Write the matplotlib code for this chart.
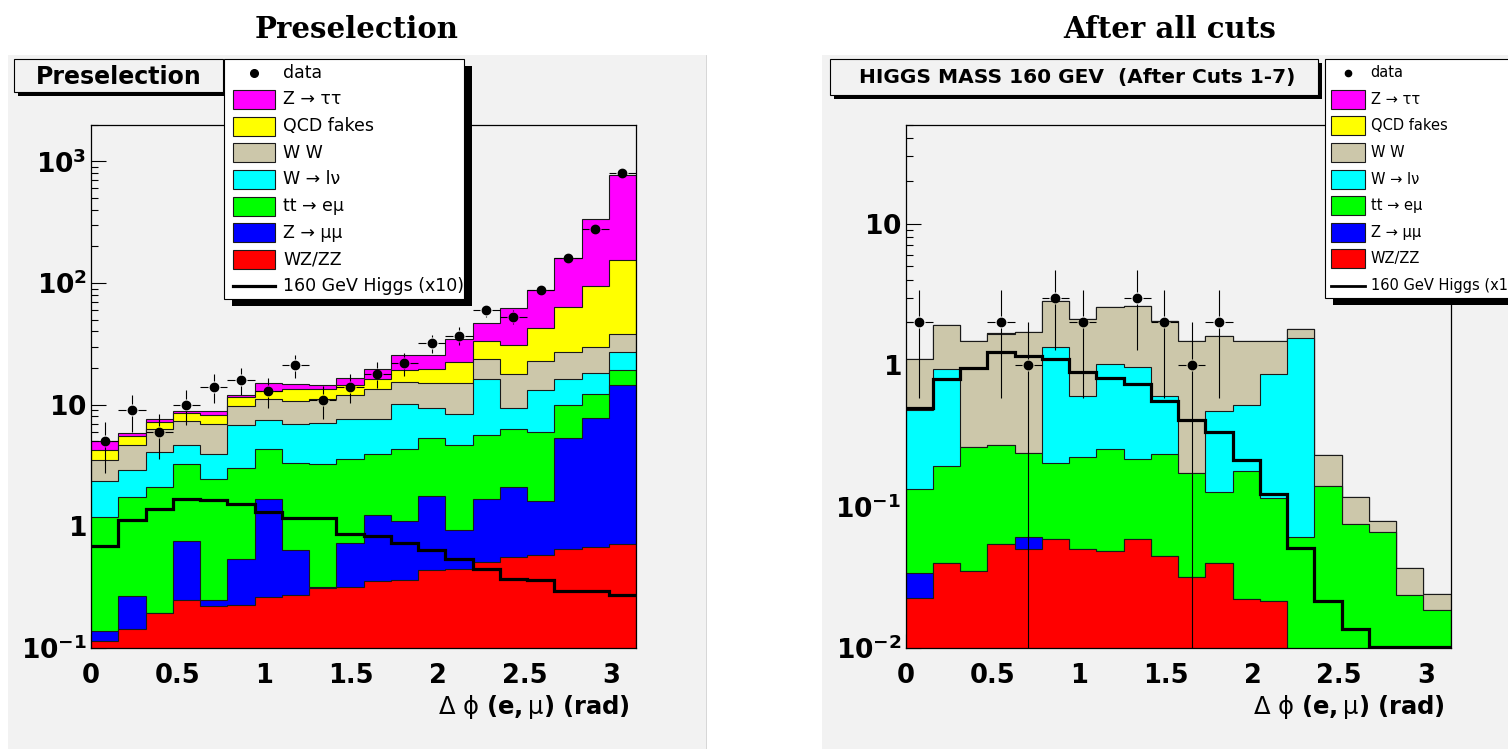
import numpy as np
import matplotlib
matplotlib.use("Agg")
import matplotlib.pyplot as plt
from matplotlib.patches import Rectangle
from matplotlib.ticker import FuncFormatter, LogLocator, NullFormatter

W, H = 1508, 749
BG = "#f2f2f2"
EDGE = "#1a1a1a"

# 20 bins in delta-phi(e, mu) from 0 to pi
EDGES = np.linspace(0.0, np.pi, 21)

# ── Preselection: cumulative stack heights per bin ──────────────────────────
pre_wzzz    = [0.114, 0.144, 0.195, 0.247, 0.220, 0.227, 0.263, 0.274, 0.313, 0.318,
               0.355, 0.365, 0.441, 0.446, 0.509, 0.560, 0.585, 0.656, 0.676, 0.721]
pre_zmumu   = [0.138, 0.267, 0.195, 0.762, 0.250, 0.536, 1.67, 0.643, 0.320, 0.734,
               1.25, 1.10, 1.79, 0.927, 1.69, 2.10, 1.60, 5.35, 7.77, 14.4]
pre_ttbar   = [1.19, 1.75, 2.10, 3.27, 2.47, 3.01, 4.32, 3.34, 3.27, 3.60,
               3.91, 4.35, 5.35, 4.69, 5.59, 6.35, 5.96, 9.87, 12.3, 19.1]
pre_wlnu    = [2.36, 2.92, 4.08, 4.69, 3.96, 6.76, 7.53, 6.98, 7.11, 7.57,
               7.67, 10.2, 9.44, 8.43, 16.3, 9.38, 13.1, 16.3, 18.3, 27.1]
pre_ww      = [3.53, 4.69, 6.35, 7.29, 6.98, 9.74, 11.1, 10.8, 11.1, 12.1,
               13.5, 15.3, 15.2, 15.2, 23.6, 17.7, 22.8, 27.1, 29.7, 38.3]
pre_qcd     = [4.27, 5.52, 7.20, 8.53, 8.17, 11.6, 13.0, 13.5, 13.4, 14.6,
               16.1, 19.1, 19.8, 22.4, 33.3, 31.1, 42.6, 63.9, 93.8, 155]
pre_ztautau = [4.99, 5.89, 7.67, 8.93, 8.84, 12.1, 15.2, 14.8, 14.4, 16.5,
               19.5, 25.6, 25.6, 34.4, 47.2, 62.7, 86.9, 160, 333, 766]
pre_higgs   = [0.689, 1.12, 1.38, 1.69, 1.64, 1.54, 1.30, 1.17, 1.17, 0.865,
               0.828, 0.730, 0.635, 0.542, 0.449, 0.372, 0.360, 0.294, 0.294, 0.271]
pre_data    = [5, 9, 6, 10, 14, 16, 13, 21, 11, 14,
               18, 22, 32, 37, 60, 53, 88, 160, 277, 806]

# ── After all cuts ───────────────────────────────────────────────────────────
post_wzzz    = [0.0225, 0.0399, 0.035, 0.0543, 0.0497, 0.059, 0.0498, 0.0487, 0.059, 0.0445,
                0.032, 0.040, 0.0222, 0.0215, 0, 0, 0, 0, 0, 0]
post_zmumu   = [0.0339, 0.0399, 0.035, 0.0543, 0.061, 0.059, 0.0498, 0.0487, 0.059, 0.0445,
                0.032, 0.040, 0.0222, 0.0215, 0, 0, 0, 0, 0, 0]
post_ttbar   = [0.132, 0.194, 0.262, 0.273, 0.240, 0.204, 0.223, 0.254, 0.216, 0.237,
                0.173, 0.127, 0.177, 0.115, 0.061, 0.139, 0.0753, 0.0664, 0.0237, 0.0186]
post_wlnu    = [0.485, 0.942, 0.262, 0.273, 0.240, 1.34, 0.605, 1.01, 0.966, 0.609,
                0.173, 0.476, 0.520, 0.867, 1.56, 0.139, 0.0753, 0.0664, 0.0237, 0.0186]
post_ww      = [1.10, 1.92, 1.47, 1.66, 1.70, 2.82, 2.13, 2.57, 2.61, 2.05,
                1.49, 1.60, 1.47, 1.49, 1.80, 0.231, 0.116, 0.079, 0.037, 0.024]
post_qcd     = [1.10, 1.92, 1.47, 1.69, 1.70, 2.82, 2.13, 2.57, 2.61, 2.05,
                1.49, 1.60, 1.47, 1.49, 1.80, 0.231, 0.116, 0.079, 0.037, 0.024]
post_ztautau = post_qcd
post_higgs   = [0.50, 0.80, 0.957, 1.23, 1.15, 1.10, 0.887, 0.81, 0.729, 0.558,
                0.412, 0.335, 0.214, 0.123, 0.051, 0.0215, 0.0137, 0, 0, 0]
post_data    = [2, 0, 0, 2, 1, 3, 2, 0, 3, 2,
                1, 2, 0, 0, 0, 0, 0, 0, 0, 0]

LEG_LABELS = ["data", "Z \u2192 \u03c4\u03c4", "QCD fakes", "W W", "W \u2192 l\u03bd",
              "tt \u2192 e\u03bc", "Z \u2192 \u03bc\u03bc", "WZ/ZZ", "160 GeV Higgs (x10)"]
# drawing order: top of stack first
COLORS = ["#ff00ff", "#ffff00", "#ccc7aa", "#00ffff", "#00ff00", "#0000ff", "#ff0000"]

XTICKS = [0, 0.5, 1, 1.5, 2, 2.5, 3]
XTICKLABELS = ["0", "0.5", "1", "1.5", "2", "2.5", "3"]


def frac(x0, y0, x1, y1):
    return [x0 / W, 1 - y1 / H, (x1 - x0) / W, (y1 - y0) / H]


def log_label(v, _):
    e = int(round(np.log10(v)))
    if e == 0:
        return r"$\mathbf{1}$"
    if e == 1:
        return r"$\mathbf{10}$"
    return r"$\mathbf{10^{%d}}$" % e


def draw_panel(ax, stack, higgs, data, ylim, box_px):
    ax.set_facecolor(BG)
    ax.set_yscale("log")
    for vals, col in zip(stack, COLORS):
        v = np.asarray(vals, float)
        ax.stairs(np.where(v > 0, v, 1e-6), EDGES, fill=True, baseline=1e-6,
                  facecolor=col, edgecolor=EDGE, linewidth=0.8, zorder=1)
    hv = np.clip(np.asarray(higgs, float), ylim[0] * 1.01, None)
    ax.stairs(hv, EDGES, baseline=None, color="k", linewidth=2.3, zorder=3)

    # data with sqrt(N) errors, gaps around the marker like ROOT draws them
    wpx, hpx = box_px
    gap = 6.0
    gx = gap * np.pi / wpx
    gy = gap * (np.log10(ylim[1]) - np.log10(ylim[0])) / hpx
    c = 0.5 * (EDGES[:-1] + EDGES[1:])
    hw = 0.5 * (EDGES[1] - EDGES[0])
    n = np.asarray(data, float)
    m = n > 0
    cm, nm = c[m], n[m]
    err = np.sqrt(nm)
    ax.hlines(nm, cm - hw, cm - gx, color="k", lw=0.8, zorder=4)
    ax.hlines(nm, cm + gx, cm + hw, color="k", lw=0.8, zorder=4)
    up0, up1 = nm * 10 ** gy, nm + err
    ku = up1 > up0
    ax.vlines(cm[ku], up0[ku], up1[ku], color="k", lw=0.8, zorder=4)
    lo1 = nm / 10 ** gy
    lo0 = np.where(nm - err > 0, nm - err, ylim[0] * 0.5)
    kl = lo0 < lo1
    ax.vlines(cm[kl], lo0[kl], lo1[kl], color="k", lw=0.8, zorder=4)
    ax.plot(cm, nm, "o", color="k", ms=6, zorder=5)

    ax.set_xlim(0, np.pi)
    ax.set_ylim(*ylim)
    ax.set_axisbelow(True)
    ax.set_xticks(XTICKS)
    ax.set_xticklabels(XTICKLABELS, fontweight="bold")
    ax.yaxis.set_major_locator(LogLocator(base=10, numticks=12))
    ax.yaxis.set_minor_locator(LogLocator(base=10, subs=np.arange(2, 10), numticks=12))
    ax.yaxis.set_major_formatter(FuncFormatter(log_label))
    ax.yaxis.set_minor_formatter(NullFormatter())
    ax.tick_params(axis="x", which="major", direction="in", length=10, width=0.8,
                   labelsize=18.5, pad=11)
    ax.tick_params(axis="y", which="major", direction="in", length=10.5, width=0.8,
                   labelsize=19, pad=3)
    ax.tick_params(axis="y", which="minor", direction="in", length=5.3, width=0.8)
    for s in ax.spines.values():
        s.set_linewidth(0.9)
        s.set_color("k")
    ax.set_xlabel(r"$\Delta\ \mathrm{\phi}\ \mathbf{(e,}\mathrm{\mu}\mathbf{)\ (rad)}$",
                  fontsize=17.5, loc="right")
    ax.xaxis.set_label_coords(0.989, -0.113)
    ax.xaxis.label.set_verticalalignment("center")


def draw_legend(ov, x0, y0, x1, y1, sx0, sx1, tx, fs, ms, lw, step):
    ov.add_patch(Rectangle((x0 + 8, y0 + 7), x1 - x0, y1 - y0, fc="k", ec="none", zorder=5))
    ov.add_patch(Rectangle((x0, y0), x1 - x0, y1 - y0, fc="white", ec="k", lw=0.8, zorder=6))
    sh = 19
    for i, lab in enumerate(LEG_LABELS):
        yc = y0 + 13.7 + i * step
        if i == 0:
            ov.plot([(sx0 + sx1) / 2], [yc], "o", color="k", ms=ms, zorder=7)
        elif i == len(LEG_LABELS) - 1:
            ov.plot([sx0, sx1], [yc, yc], color="k", lw=lw, zorder=7)
        else:
            ov.add_patch(Rectangle((sx0, yc - sh / 2), sx1 - sx0, sh, fc=COLORS[i - 1],
                                   ec=EDGE, lw=0.8, zorder=7))
        ov.text(tx, yc, lab, fontsize=fs, ha="left", va="center", zorder=8)


def title_box(ov, x0, y0, x1, y1, text, fs, tx):
    ov.add_patch(Rectangle((x0 + 4, y0 + 4), x1 - x0, y1 - y0, fc="k", ec="none", zorder=3))
    ov.add_patch(Rectangle((x0, y0), x1 - x0, y1 - y0, fc=BG, ec="k", lw=0.8, zorder=4))
    ov.text(tx, (y0 + y1) / 2 + 1, text, fontsize=fs, fontweight="bold",
            ha="center", va="center", zorder=4.5)


fig = plt.figure(figsize=(W / 100, H / 100), dpi=100)

# canvas backgrounds
bg = fig.add_axes([0, 0, 1, 1], zorder=-10)
bg.set_xlim(0, W)
bg.set_ylim(H, 0)
bg.axis("off")
bg.add_patch(Rectangle((8, 55), 698, 700, fc=BG, ec="none"))
bg.add_patch(Rectangle((822, 55), 700, 700, fc=BG, ec="none"))
bg.plot([706, 706], [55, H], color="#d0d0d0", lw=0.6)

ax_l = fig.add_axes(frac(91, 124.7, 636, 648))
draw_panel(ax_l, [pre_ztautau, pre_qcd, pre_ww, pre_wlnu, pre_ttbar, pre_zmumu, pre_wzzz],
           pre_higgs, pre_data, (0.1, 2000), (545, 523.3))

ax_r = fig.add_axes(frac(905.5, 124.7, 1450.5, 648))
draw_panel(ax_r, [post_ztautau, post_qcd, post_ww, post_wlnu, post_ttbar, post_zmumu, post_wzzz],
           post_higgs, post_data, (0.01, 50), (545, 523.3))

# overlay in pixel coordinates for boxes, legends and titles
ov = fig.add_axes([0, 0, 1, 1], zorder=10)
ov.set_xlim(0, W)
ov.set_ylim(H, 0)
ov.axis("off")
ov.patch.set_alpha(0)

title_box(ov, 14, 59, 223, 92.3, "Preselection", 17, 118.5)
title_box(ov, 829.7, 59, 1318, 95, "HIGGS MASS 160 GEV  (After Cuts 1-7)", 14.5, 1077)

draw_legend(ov, 224, 59, 464, 299, 232.7, 275, 283, 12.5, 5.5, 2.3, 26.7)
draw_legend(ov, 1324.6, 59, 1540, 298, 1331, 1365.4, 1370.7, 10.5, 4.5, 2.0, 26.6)

ov.text(357, 38, "Preselection", family="DejaVu Serif", fontweight="bold",
        fontsize=21, ha="center", va="baseline")
ov.text(1170, 38, "After all cuts", family="DejaVu Serif", fontweight="bold",
        fontsize=21, ha="center", va="baseline")

fig.savefig("out.png", dpi=100)
